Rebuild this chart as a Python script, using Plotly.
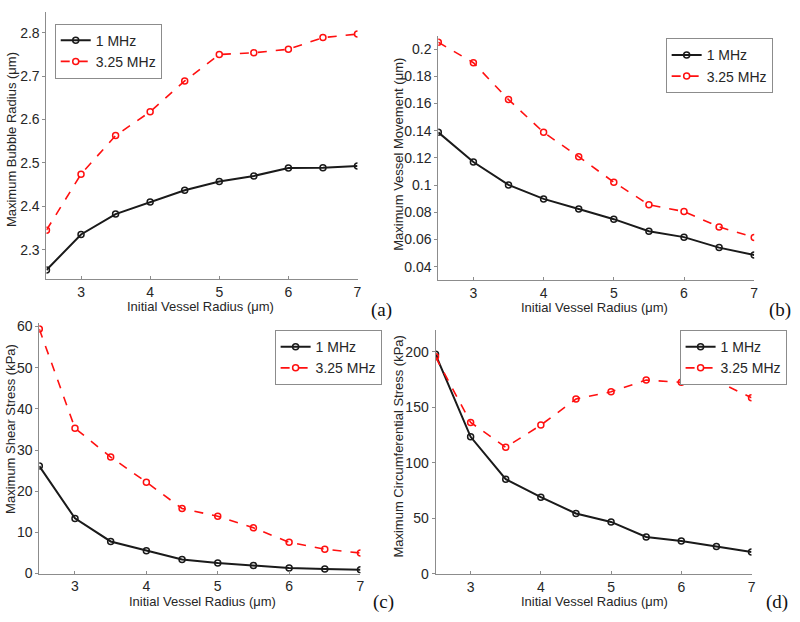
import plotly.graph_objects as go

RADIUS = [2.5, 3, 3.5, 4, 4.5, 5, 5.5, 6, 6.5, 7]

BUBBLE_1MHZ = [2.253, 2.335, 2.382, 2.410, 2.437, 2.457, 2.470, 2.488, 2.489, 2.493]
BUBBLE_325MHZ = [2.345, 2.474, 2.563, 2.618, 2.689, 2.750, 2.754, 2.762, 2.789, 2.797]

VESSEL_1MHZ = [0.1388, 0.117, 0.1002, 0.0899, 0.0825, 0.075, 0.0661, 0.0618, 0.0541, 0.0487]
VESSEL_325MHZ = [0.205, 0.190, 0.1629, 0.1388, 0.1209, 0.1022, 0.0856, 0.0806, 0.0693, 0.0616]

SHEAR_1MHZ = [26.1, 13.4, 7.8, 5.55, 3.4, 2.55, 1.98, 1.35, 1.1, 0.95]
SHEAR_325MHZ = [59.4, 35.3, 28.3, 22.2, 15.8, 13.9, 11.1, 7.6, 5.9, 5.0]

CIRC_1MHZ = [197.9, 123.5, 85.3, 69.1, 54.4, 46.8, 33.2, 29.7, 24.7, 19.7]
CIRC_325MHZ = [195.6, 136.5, 114.1, 134.1, 157.6, 164.1, 174.7, 172.6, 173.8, 158.8]

X_TICKS = [3, 4, 5, 6, 7]
BUBBLE_TICKS = [2.3, 2.4, 2.5, 2.6, 2.7, 2.8]
VESSEL_TICKS = [0.04, 0.06, 0.08, 0.1, 0.12, 0.14, 0.16, 0.18, 0.2]
VESSEL_TICK_TEXT = ["0.04", "0.06", "0.08", "0.1", "0.12", "0.14", "0.16", "0.18", "0.2"]
SHEAR_TICKS = [0, 10, 20, 30, 40, 50, 60]
CIRC_TICKS = [0, 50, 100, 150, 200]

SERIES_NAMES = ["1 MHz", "3.25 MHz"]

W, H = 800, 622
FONT = "Liberation Sans, Arial, sans-serif"
AXIS_GRAY = "#8c8c8c"
TEXT = "#262626"


def px(x0, x1):
    return [x0 / W, x1 / W]


def py(top, bottom):
    return [1 - bottom / H, 1 - top / H]


panels = [
    dict(y1=BUBBLE_1MHZ, y2=BUBBLE_325MHZ, ticks=BUBBLE_TICKS, ticktext=None,
         yrange=[2.232, 2.849], xd=px(46.7, 359.3), yd=py(6.7, 280),
         ytitle="Maximum Bubble Radius (\u03bcm)", ytx=11, yty=137,
         xtx=202, xty=308, tag="(a)", tagx=383, tagy=311,
         leg=(55, 19)),
    dict(y1=VESSEL_1MHZ, y2=VESSEL_325MHZ, ticks=VESSEL_TICKS, ticktext=VESSEL_TICK_TEXT,
         yrange=[0.0302, 0.2096], xd=px(440.5, 758), yd=py(31.7, 281),
         ytitle="Maximum Vessel Movement (\u03bcm)", ytx=401, yty=152,
         xtx=597, xty=309, tag="(b)", tagx=784, tagy=311,
         leg=(669, 34)),
    dict(y1=SHEAR_1MHZ, y2=SHEAR_325MHZ, ticks=SHEAR_TICKS, ticktext=None,
         yrange=[0, 60.8], xd=px(39.5, 362.3), yd=py(325, 580.7),
         ytitle="Maximum Shear Stress (kPa)", ytx=11, yty=433,
         xtx=204, xty=609, tag="(c)", tagx=385, tagy=610,
         leg=(276, 332)),
    dict(y1=CIRC_1MHZ, y2=CIRC_325MHZ, ticks=CIRC_TICKS, ticktext=None,
         yrange=[0, 220], xd=px(437.7, 755.3), yd=py(331.7, 581),
         ytitle="Maximum Circumferential Stress (kPa)", ytx=401, yty=450,
         xtx=597, xty=609, tag="(d)", tagx=781, tagy=610,
         leg=(683, 332)),
]

fig = go.Figure()
layout = {}
annotations = []

for i, p in enumerate(panels):
    n = i + 1
    xa = "x" if n == 1 else f"x{n}"
    ya = "y" if n == 1 else f"y{n}"
    leg = "legend" if n == 1 else f"legend{n}"

    fig.add_trace(go.Scatter(
        x=RADIUS, y=p["y1"], name=SERIES_NAMES[0], mode="lines+markers",
        line=dict(color="#1a1a1a", width=2),
        marker=dict(symbol="circle-open", size=6, color="#1a1a1a", line=dict(width=1.5)),
        xaxis=xa, yaxis=ya, legend=leg,
    ))
    fig.add_trace(go.Scatter(
        x=RADIUS, y=p["y2"], name=SERIES_NAMES[1], mode="lines+markers",
        line=dict(color="#ff1010", width=1.6, dash="dash"),
        marker=dict(symbol="circle-open", size=6, color="#ff1010", line=dict(width=1.5)),
        xaxis=xa, yaxis=ya, legend=leg,
    ))

    xkey = "xaxis" if n == 1 else f"xaxis{n}"
    ykey = "yaxis" if n == 1 else f"yaxis{n}"
    layout[xkey] = dict(
        domain=p["xd"], anchor=ya, range=[2.5, 7], tickvals=X_TICKS,
        showgrid=False, zeroline=False, showline=True, linecolor=AXIS_GRAY, linewidth=1,
        ticks="inside", ticklen=3, tickcolor=AXIS_GRAY,
        tickfont=dict(family=FONT, size=14, color=TEXT),
    )
    ydict = dict(
        domain=p["yd"], anchor=xa, range=p["yrange"], tickvals=p["ticks"],
        showgrid=False, zeroline=False, showline=True, linecolor=AXIS_GRAY, linewidth=1,
        ticks="outside", ticklen=3, tickcolor=AXIS_GRAY,
        tickfont=dict(family=FONT, size=14, color=TEXT),
    )
    if p["ticktext"]:
        ydict["ticktext"] = p["ticktext"]
    layout[ykey] = ydict

    layout[leg] = dict(
        x=p["leg"][0] / W, y=1 - p["leg"][1] / H, xanchor="left", yanchor="top",
        bgcolor="white", bordercolor=AXIS_GRAY, borderwidth=1,
        font=dict(family=FONT, size=14, color=TEXT), itemwidth=30,
        tracegroupgap=0,
    )

    annotations.append(dict(
        text=p["ytitle"], x=p["ytx"] / W, y=1 - p["yty"] / H, xref="paper", yref="paper",
        textangle=-90, showarrow=False, font=dict(family=FONT, size=13, color=TEXT),
        xanchor="center", yanchor="middle",
    ))
    annotations.append(dict(
        text="Initial Vessel Radius (\u03bcm)", x=p["xtx"] / W, y=1 - p["xty"] / H,
        xref="paper", yref="paper", showarrow=False,
        font=dict(family=FONT, size=13, color=TEXT), xanchor="center", yanchor="middle",
    ))
    annotations.append(dict(
        text=p["tag"], x=p["tagx"] / W, y=1 - p["tagy"] / H, xref="paper", yref="paper",
        showarrow=False, font=dict(family="Liberation Serif, Times New Roman, serif", size=19, color="#111"),
        xanchor="center", yanchor="middle",
    ))

fig.update_layout(
    width=W, height=H,
    margin=dict(l=0, r=0, t=0, b=0),
    paper_bgcolor="white", plot_bgcolor="white",
    annotations=annotations,
    **layout,
)

fig.write_html(
    "out.html",
    config={"displayModeBar": False},
    post_script="document.body.style.margin='0';document.body.style.overflow='hidden';",
)
